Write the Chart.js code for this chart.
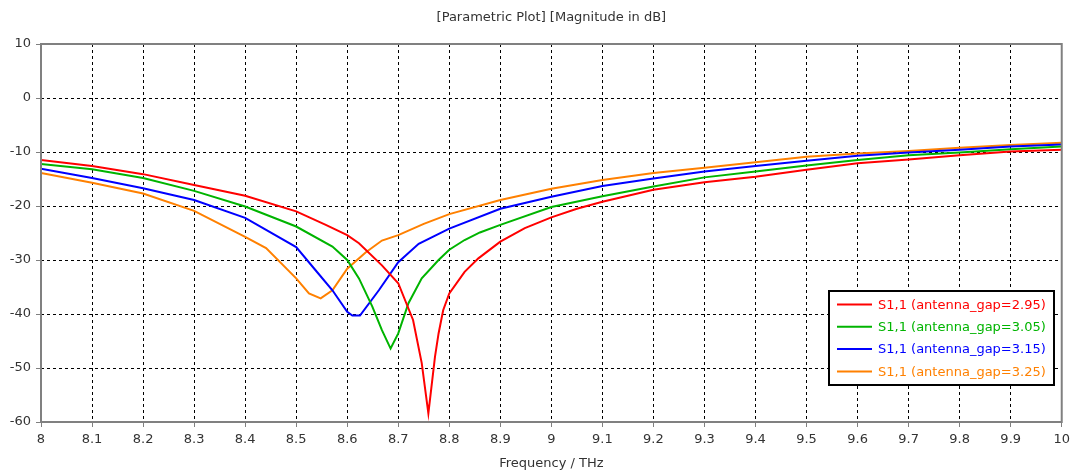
<!DOCTYPE html>
<html>
<head>
<meta charset="utf-8">
<title>Parametric Plot</title>
<script src="https://cdn.jsdelivr.net/npm/chart.js@4.4.0/dist/chart.umd.min.js"></script>
<style>
    body { margin: 0; background: #ffffff; }
    #wrap { width: 1075px; height: 473px; }
</style>
</head>
<body>
<div id="wrap"><canvas id="plot" width="1075" height="473"></canvas></div>
<script>
// ============================
// Data (frequency in THz, S1,1 in dB)
// ============================
const freqGap295 = [8, 8.1, 8.2, 8.3, 8.4, 8.5, 8.558, 8.6, 8.623, 8.668, 8.7, 8.729, 8.746, 8.759, 8.772, 8.779, 8.788, 8.8, 8.83, 8.857, 8.9, 8.948, 9, 9.05, 9.1, 9.2, 9.3, 9.4, 9.5, 9.6, 9.7, 9.8, 9.9, 10];
const valGap295 = [-11.5, -12.6, -14.1, -16.1, -18.1, -21.0, -23.5, -25.4, -26.9, -31.0, -34.3, -41.1, -49.1, -58.4, -47.9, -43.6, -39.3, -36.2, -32.2, -29.7, -26.6, -24.1, -22.1, -20.5, -19.2, -17.0, -15.6, -14.6, -13.3, -12.1, -11.4, -10.6, -9.9, -9.6];

const freqGap305 = [8, 8.1, 8.2, 8.3, 8.4, 8.5, 8.571, 8.6, 8.623, 8.649, 8.668, 8.685, 8.7, 8.72, 8.746, 8.779, 8.8, 8.83, 8.86, 8.9, 9, 9.1, 9.2, 9.3, 9.4, 9.5, 9.6, 9.7, 9.8, 9.9, 10];
const valGap305 = [-12.2, -13.2, -14.8, -17.2, -20.1, -23.8, -27.5, -30.0, -33.4, -38.6, -43.0, -46.4, -43.6, -38.0, -33.4, -30.0, -28.1, -26.3, -24.9, -23.5, -20.2, -18.2, -16.4, -14.7, -13.6, -12.5, -11.5, -10.6, -10.1, -9.5, -9.0];

const freqGap315 = [8, 8.1, 8.2, 8.3, 8.4, 8.5, 8.538, 8.571, 8.6, 8.61, 8.625, 8.662, 8.7, 8.74, 8.8, 8.9, 9, 9.1, 9.2, 9.3, 9.4, 9.5, 9.6, 9.7, 9.8, 9.9, 10];
const valGap315 = [-13.1, -14.8, -16.7, -18.9, -22.2, -27.6, -31.9, -35.6, -39.6, -40.3, -40.3, -35.6, -30.4, -27.0, -24.2, -20.5, -18.3, -16.3, -14.9, -13.6, -12.6, -11.6, -10.7, -10.1, -9.6, -9.0, -8.6];

const freqGap325 = [8, 8.1, 8.2, 8.3, 8.4, 8.441, 8.5, 8.525, 8.548, 8.571, 8.6, 8.636, 8.668, 8.7, 8.75, 8.8, 8.9, 9, 9.1, 9.2, 9.3, 9.4, 9.5, 9.6, 9.7, 9.8, 9.9, 10];
const valGap325 = [-13.9, -15.7, -17.7, -20.9, -25.7, -27.8, -33.4, -36.2, -37.1, -35.6, -31.6, -28.6, -26.4, -25.4, -23.3, -21.5, -18.9, -16.8, -15.2, -13.9, -12.9, -11.9, -10.9, -10.3, -9.8, -9.2, -8.7, -8.3];

const seriesLabels = ["S1,1 (antenna_gap=2.95)", "S1,1 (antenna_gap=3.05)", "S1,1 (antenna_gap=3.15)", "S1,1 (antenna_gap=3.25)"];
const seriesColors = ["#ff0000", "#00b400", "#0000ff", "#ff8000"];

const xMin = 8, xMax = 10, xStep = 0.1;
const yTicks = [-60, -50, -40, -30, -20, -10, 0, 10];

function toPoints(freq, vals) {
    return freq.map((f, i) => ({ x: f, y: vals[i] }));
}

const allFreq = [freqGap295, freqGap305, freqGap315, freqGap325];
const allVals = [valGap295, valGap305, valGap315, valGap325];

// ============================
// Frame + legend box drawn on top of the plot
// ============================
const cadreEtLegende = {
    id: "cadreEtLegende",
    afterDatasetsDraw(chart) {
        const ctx = chart.ctx;
        const a = chart.chartArea;
        ctx.save();
        ctx.strokeStyle = "#808080";
        ctx.lineWidth = 2;
        ctx.strokeRect(a.left, a.top, a.right - a.left, a.bottom - a.top);

        // legend
        const bx = 829, by = 291, bw = 225, bh = 94;
        ctx.fillStyle = "#ffffff";
        ctx.fillRect(bx, by, bw, bh);
        ctx.strokeStyle = "#000000";
        ctx.lineWidth = 2;
        ctx.strokeRect(bx, by, bw, bh);
        ctx.font = "13px 'DejaVu Sans'";
        ctx.textBaseline = "middle";
        chart.data.datasets.forEach((ds, i) => {
            const yy = by + 13.5 + i * 22.3;
            ctx.strokeStyle = ds.borderColor;
            ctx.lineWidth = 2;
            ctx.beginPath();
            ctx.moveTo(bx + 8, yy);
            ctx.lineTo(bx + 43, yy);
            ctx.stroke();
            ctx.fillStyle = ds.borderColor;
            ctx.fillText(ds.label, bx + 49, yy + 1);
        });
        ctx.restore();
    }
};

const grille = {
    color: "#000000",
    lineWidth: 1,
    tickLength: 5,
    tickColor: "#808080",
    tickBorderDash: []
};

const ctx = document.getElementById("plot").getContext("2d");
new Chart(ctx, {
    type: "line",
    data: {
        datasets: allFreq.map((f, i) => ({
            label: seriesLabels[i],
            data: toPoints(f, allVals[i]),
            borderColor: seriesColors[i],
            backgroundColor: seriesColors[i],
            borderWidth: 2,
            pointRadius: 0,
            tension: 0,
            fill: false
        }))
    },
    options: {
        responsive: false,
        animation: false,
        layout: { padding: { top: 0, right: 11, left: 0, bottom: 0 } },
        plugins: {
            legend: { display: false },
            tooltip: { enabled: false },
            title: {
                display: true,
                fullSize: false,
                text: "[Parametric Plot] [Magnitude in dB]",
                color: "#333333",
                font: { family: "'DejaVu Sans'", size: 13, weight: "normal" },
                padding: { top: 10, bottom: 18.4 }
            }
        },
        scales: {
            x: {
                type: "linear",
                min: xMin,
                max: xMax,
                afterFit(scale) { scale.height = 51; },
                ticks: {
                    stepSize: xStep,
                    autoSkip: false,
                    maxRotation: 0,
                    padding: 5,
                    color: "#333333",
                    font: { family: "'DejaVu Sans'", size: 13 },
                    callback: v => String(Number(v.toFixed(1)))
                },
                grid: grille,
                border: { display: false, dash: [3, 3] },
                title: {
                    display: true,
                    text: "Frequency / THz",
                    color: "#333333",
                    font: { family: "'DejaVu Sans'", size: 13 },
                    padding: { top: 0, bottom: 2 }
                }
            },
            y: {
                min: -60,
                max: 10,
                afterFit(scale) { scale.width = 41; },
                afterBuildTicks(scale) { scale.ticks = yTicks.map(v => ({ value: v })); },
                ticks: {
                    padding: 5,
                    color: "#333333",
                    font: { family: "'DejaVu Sans'", size: 13 }
                },
                grid: grille,
                border: { display: false, dash: [3, 3] }
            }
        }
    },
    plugins: [cadreEtLegende]
});
</script>
</body>
</html>
